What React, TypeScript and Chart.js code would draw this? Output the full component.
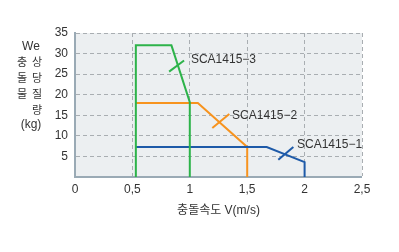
import React, { useEffect, useRef } from "react";
import { Chart, registerables } from "chart.js";

Chart.register(...registerables);

const xTickLabels = ["0", "0,5", "1", "1,5", "2", "2,5"];
const xTickValues = [0, 0.5, 1, 1.5, 2, 2.5];

const sca3X = [0.53, 0.53, 0.84, 1.0, 1.0];
const sca3Y = [0, 32, 32, 18.2, 0];
const sca2X = [0.53, 1.07, 1.5, 1.5];
const sca2Y = [18, 18, 7.3, 0];
const sca1X = [0.53, 1.67, 2.0, 2.0];
const sca1Y = [7.3, 7.3, 3.6, 0];

const cross3X = [0.82, 0.95];
const cross3Y = [25.6, 28.3];
const cross2X = [1.196, 1.344];
const cross2Y = [11.9, 15.3];
const cross1X = [1.771, 1.902];
const cross1Y = [4.2, 7.3];

const seriesNames = ["SCA1415−3", "SCA1415−2", "SCA1415−1"];
const labelX = [1.01, 1.368, 1.934];
const labelY = [28.5, 14.9, 7.85];

const GREEN = "#2db34a";
const ORANGE = "#f7931e";
const BLUE = "#1e5aa8";
const FONT = "'Liberation Sans', Arial, 'Noto Sans CJK KR', sans-serif";

const pts = (xs: number[], ys: number[]) => xs.map((x, i) => ({ x, y: ys[i] }));

export default function App() {
  const ref = useRef<HTMLCanvasElement>(null);
  useEffect(() => {
    if (!ref.current) return;
    const bgPlugin = {
      id: "bg",
      beforeDraw(chart: any) {
        const { ctx, chartArea: a } = chart;
        ctx.save();
        ctx.fillStyle = "#eceff1";
        ctx.fillRect(a.left, a.top, a.right - a.left, a.bottom - a.top);
        ctx.restore();
      },
    };
    const textPlugin = {
      id: "texts",
      afterDraw(chart: any) {
        const { ctx, scales } = chart;
        ctx.save();
        ctx.fillStyle = "#333";
        ctx.font = `12px ${FONT}`;
        ctx.textBaseline = "middle";
        ctx.textAlign = "left";
        seriesNames.forEach((n, i) => {
          ctx.fillText(n, scales.x.getPixelForValue(labelX[i]), scales.y.getPixelForValue(labelY[i]));
        });
        ctx.textAlign = "center";
        ctx.fillText("We", 31, 47);
        ctx.font = `11px ${FONT}`;
        ctx.fillText("충", 22, 63);
        ctx.fillText("상", 37, 63);
        ctx.fillText("돌", 22, 79);
        ctx.fillText("당", 37, 79);
        ctx.fillText("물", 22, 95);
        ctx.fillText("질", 37, 95);
        ctx.fillText("량", 37, 111);
        ctx.font = `12px ${FONT}`;
        ctx.fillText("(kg)", 31, 125);
        ctx.restore();
      },
    };
    const line = (data: any, color: string) => ({
      data,
      borderColor: color,
      borderWidth: 2,
      pointRadius: 0,
      fill: false,
      tension: 0,
    });
    const chart = new Chart(ref.current, {
      type: "line",
      data: {
        datasets: [
          line(pts(sca3X, sca3Y), GREEN),
          line(pts(sca1X, sca1Y), BLUE),
          line(pts(sca2X, sca2Y), ORANGE),
          line(pts(cross3X, cross3Y), GREEN),
          line(pts(cross1X, cross1Y), BLUE),
          line(pts(cross2X, cross2Y), ORANGE),
        ] as any,
      },
      options: {
        animation: false,
        responsive: false,
        maintainAspectRatio: false,
        layout: { padding: { top: 33, right: 37, left: 0, bottom: 0 } },
        plugins: { legend: { display: false }, tooltip: { enabled: false } },
        scales: {
          x: {
            type: "linear",
            min: 0,
            max: 2.5,
            afterBuildTicks(s: any) {
              s.ticks = xTickValues.map((v) => ({ value: v }));
            },
            afterFit(s: any) {
              s.height = 75;
            },
            ticks: {
              padding: 5,
              color: "#333",
              font: { size: 12, family: FONT },
              maxRotation: 0,
              callback: (v: any) => {
                const i = xTickValues.indexOf(Number(v));
                return i >= 0 ? xTickLabels[i] : "";
              },
            },
            grid: { color: "#a9aeb2", drawTicks: false, lineWidth: (c: any) => (c.index === 0 ? 0 : 1) },
            border: { display: true, color: "#9aaab5", width: 2, dash: [4, 3] },
            title: {
              display: true,
              text: "충돌속도 V(m/s)",
              color: "#333",
              font: { size: 12, family: FONT },
              padding: { top: 0, bottom: 34 },
            },
          },
          y: {
            type: "linear",
            min: 0,
            max: 35,
            afterFit(s: any) {
              s.width = 75;
            },
            ticks: {
              stepSize: 5,
              padding: 7,
              color: "#333",
              font: { size: 12, family: FONT },
              callback: (v: any) => (Number(v) === 0 ? "" : String(v)),
            },
            grid: { color: "#a9aeb2", drawTicks: false, lineWidth: (c: any) => (c.index === 0 ? 0 : 1) },
            border: { display: true, color: "#9aaab5", width: 2, dash: [4, 3] },
          },
        },
      } as any,
      plugins: [bgPlugin, textPlugin],
    });
    return () => chart.destroy();
  }, []);
  return (
    <div style={{ position: "absolute", left: 0, top: 0, width: 399, height: 252, background: "#fff" }}>
      <canvas ref={ref} width={399} height={252} style={{ width: 399, height: 252 }} />
    </div>
  );
}
